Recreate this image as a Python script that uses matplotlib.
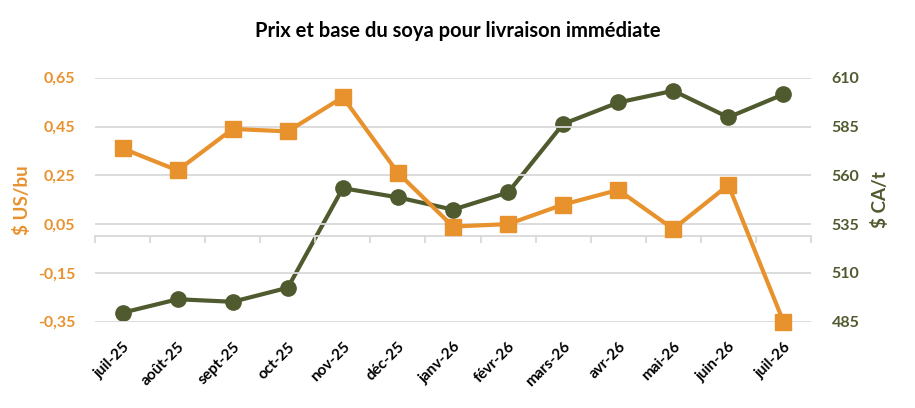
# prix et base du soya, livraison immédiate

import matplotlib
matplotlib.use("Agg")
import matplotlib.pyplot as plt
import numpy as np

plt.rcParams["font.family"] = ["Lato", "DejaVu Sans"]
plt.rcParams["font.weight"] = "bold"

mois = ["juil-25", "août-25", "sept-25", "oct-25", "nov-25", "déc-25", "janv-26",
        "févr-26", "mars-26", "avr-26", "mai-26", "juin-26", "juil-26"]
base_us = [0.36, 0.27, 0.44, 0.43, 0.57, 0.26, 0.04, 0.05, 0.13, 0.19, 0.03, 0.21, -0.35]
prix_ca = [489.6, 496.5, 495.2, 502.4, 553.4, 548.7, 542.4, 551.2, 586.3, 597.3, 603.3, 589.7, 601.5]

ticks_gauche = [-0.35, -0.15, 0.05, 0.25, 0.45, 0.65]
ticks_droite = [485, 510, 535, 560, 585, 610]

ORANGE = "#E8922E"
VERT = "#4F5A2E"
GRILLE = "#D9D9D9"

x = np.arange(len(mois))

fig = plt.figure(figsize=(9.15, 4.08), dpi=100)
ax = fig.add_axes([95 / 915, 1 - 321.7 / 408, 716 / 915, 244 / 408])
ax2 = ax.twinx()

ax.set_xlim(-0.5, len(mois) - 0.5)
ax.set_ylim(-0.35, 0.65)
ax2.set_ylim(485, 610)

ax.set_yticks(ticks_gauche)
ax.set_yticklabels([f"{v:.2f}".replace(".", ",") for v in ticks_gauche])
ax2.set_yticks(ticks_droite)
ax2.set_yticklabels([str(v) for v in ticks_droite])

ax.grid(axis="y", color=GRILLE, linewidth=1.3)
ax.set_axisbelow(True)

for a in (ax, ax2):
    for s in a.spines.values():
        s.set_visible(False)

ax.tick_params(axis="y", length=0, pad=14, labelsize=11.5, labelcolor=ORANGE)
ax2.tick_params(axis="y", length=0, pad=15, labelsize=11.5, labelcolor=VERT)

# étiquettes en bas, axe des catégories à y = 0
ax.set_xticks(x)
ax.set_xticklabels(mois, rotation=45, ha="right", rotation_mode="anchor")
ax.tick_params(axis="x", length=0, pad=13, labelsize=11)

frac0 = (0 - (-0.35)) / (0.65 - (-0.35))
sec = ax.secondary_xaxis(frac0)
sec.spines["bottom"].set_color(GRILLE)
sec.spines["bottom"].set_linewidth(1.3)
sec.set_xticks(np.arange(-0.5, len(mois), 1.0))
sec.set_xticklabels([])
sec.tick_params(axis="x", direction="out", length=5, color=GRILLE, width=1.3)

ax2.plot(x, prix_ca, color=VERT, linewidth=3, marker="o", markersize=11,
         zorder=3, clip_on=False)
ax.plot(x, base_us, color=ORANGE, linewidth=3, marker="s", markersize=11,
        zorder=3, clip_on=False)
ax.set_zorder(ax2.get_zorder() + 1)
ax.patch.set_visible(False)

fig.text(22 / 915, 1 - 200 / 408, "\\$ US/bu", rotation=90, color=ORANGE,
         fontsize=13.5, fontweight="bold", ha="center", va="center")
fig.text(880 / 915, 1 - 200 / 408, "\\$ CA/t", rotation=90, color=VERT,
         fontsize=13.5, fontweight="bold", ha="center", va="center")

fig.text(0.5, 1 - 31 / 408, "Prix et base du soya pour livraison immédiate",
         fontsize=14.5, fontweight="bold", ha="center", va="center")

fig.savefig("out.png", dpi=100)
